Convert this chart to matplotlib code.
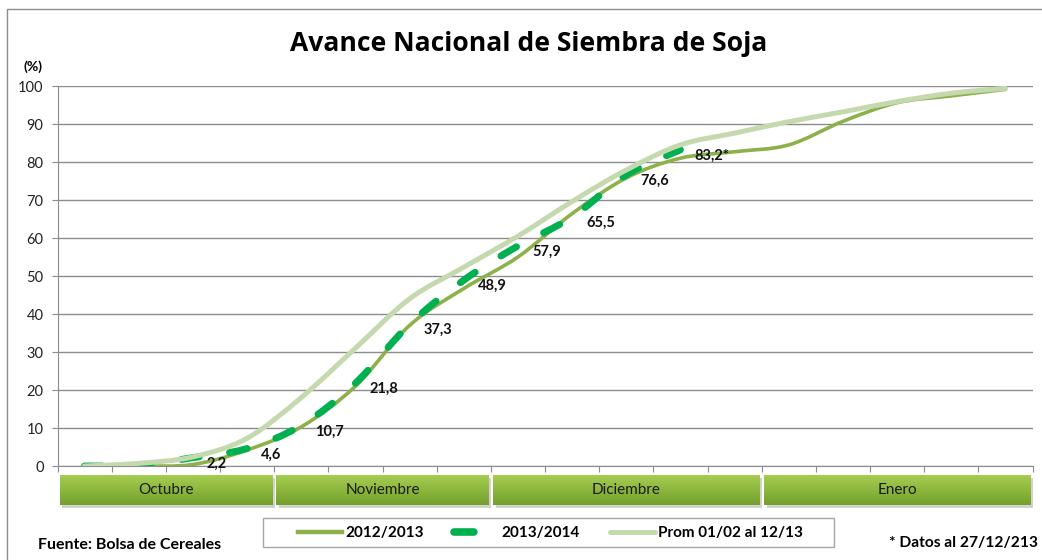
import numpy as np
import matplotlib
matplotlib.use("Agg")
import matplotlib.pyplot as plt
from matplotlib.path import Path
from matplotlib.patches import PathPatch, Rectangle
from matplotlib.lines import Line2D

plt.rcParams['font.family'] = ['Lato', 'DejaVu Sans']

# weekly categories (18 weeks, Oct -> Jan)
n_weeks = 18
s_2012 = [0, 0, 0.4, 4.2, 10.3, 21.0, 37.0, 46.7, 55.0, 66.4, 75.8, 81.0,
          82.7, 84.5, 90.7, 95.6, 97.4, 99.1]
s_2013 = [0, 0.2, 2.2, 4.6, 10.7, 21.8, 37.3, 48.9, 57.9, 65.5, 76.6, 83.2]
s_prom = [0, 0.7, 2.4, 7.3, 18.0, 31.0, 44.0, 52.3, 60.5, 69.6, 77.9, 84.5,
          87.6, 90.6, 93.2, 95.9, 98.1, 99.4]
labels_2013 = [None, None, '2,2', '4,6', '10,7', '21,8', '37,3', '48,9',
               '57,9', '65,5', '76,6', '83,2*']

months = ['Octubre', 'Noviembre', 'Diciembre', 'Enero']
month_weeks = [4, 4, 5, 5]

c_2012 = '#8db14a'
c_2013 = '#00b050'
c_prom = '#c5d9ae'
grid_c = '#8c8c8c'


def smooth_path(xs, ys):
    # excel-like smoothed line (catmull-rom as cubic bezier)
    pts = np.column_stack([xs, ys]).astype(float)
    n = len(pts)
    verts = [pts[0]]
    codes = [Path.MOVETO]
    for i in range(n - 1):
        p0 = pts[i - 1] if i > 0 else pts[i]
        p1 = pts[i]
        p2 = pts[i + 1]
        p3 = pts[i + 2] if i + 2 < n else pts[i + 1]
        verts += [p1 + (p2 - p0) / 6, p2 - (p3 - p1) / 6, p2]
        codes += [Path.CURVE4] * 3
    return Path(verts, codes)


fig = plt.figure(figsize=(10.42, 5.6), dpi=100)
ax = fig.add_axes([57.5 / 1042, (560 - 466) / 560, 975 / 1042, 380 / 560])

x12 = np.arange(len(s_2012)) + 0.5
x13 = np.arange(len(s_2013)) + 0.5
xpr = np.arange(len(s_prom)) + 0.5

ax.add_patch(PathPatch(smooth_path(x12, s_2012), fill=False, edgecolor=c_2012,
                       lw=2.6, capstyle='round', joinstyle='round', zorder=3))
ax.add_patch(PathPatch(smooth_path(x13, s_2013), fill=False, edgecolor=c_2013,
                       lw=5, linestyle=(0, (2.6, 4.4)), capstyle='round',
                       joinstyle='round', zorder=4))
ax.add_patch(PathPatch(smooth_path(xpr, s_prom), fill=False, edgecolor=c_prom,
                       lw=3.6, capstyle='round', joinstyle='round', zorder=5))

for xv, yv, lab in zip(x13, s_2013, labels_2013):
    if lab:
        ax.annotate(lab, (xv, yv), xytext=(14, -6), textcoords='offset pixels',
                    ha='left', va='center', fontsize=10.5, fontweight='bold',
                    color='#111111', zorder=6)

ax.set_xlim(0, n_weeks)
ax.set_ylim(0, 100)
ax.set_yticks(range(0, 101, 10))
ax.set_xticks(range(0, n_weeks + 1))
ax.set_xticklabels([])
ax.grid(axis='y', color=grid_c, lw=1)
ax.set_axisbelow(True)
for s in ['top', 'right']:
    ax.spines[s].set_visible(False)
for s in ['left', 'bottom']:
    ax.spines[s].set_color(grid_c)
ax.tick_params(axis='both', direction='out', length=4, color=grid_c,
               labelsize=10.5, labelcolor='#222222')
ax.tick_params(axis='y', pad=6)
ax.text(-0.015, 1.05, '(%)', transform=ax.transAxes, ha='right', va='center',
        fontsize=10, fontweight='bold')

# month strip, light green on top fading to darker at the bottom
sx = fig.add_axes([57.5 / 1042, (560 - 505) / 560, 975 / 1042, 30 / 560])
grad = np.linspace(1, 0, 50).reshape(-1, 1)
cmap = matplotlib.colors.LinearSegmentedColormap.from_list('m', ['#a5cd50', '#74a02b'])
start = 0
for m, w in zip(months, month_weeks):
    b, e = start + 0.04, start + w - 0.04
    sx.add_patch(Rectangle((b + 0.05, -0.09), e - b, 1, color='#9a9a9a',
                           alpha=0.45, lw=0, clip_on=False, zorder=1))
    sx.imshow(grad, extent=(b, e, 0, 1), origin='lower', cmap=cmap,
              vmin=0, vmax=1, aspect='auto', zorder=2)
    sx.text((b + e) / 2, 0.5, m, ha='center', va='center', fontsize=11,
            color='#1a1a1a', zorder=3)
    start += w
sx.set_xlim(0, n_weeks)
sx.set_ylim(0, 1)
sx.axis('off')

fig.text(0.507, 0.922, 'Avance Nacional de Siembra de Soja', ha='center',
         va='center', fontsize=19.1, fontweight='bold', family='Open Sans')

# legend
fig.add_artist(Rectangle((263 / 1042, 13 / 560), 571 / 1042, 29 / 560,
                         transform=fig.transFigure, fill=False,
                         edgecolor='#a6a6a6', lw=1))
handles = [Line2D([], [], color=c_2012, lw=3.2),
           Line2D([], [], color=c_2013, lw=5.5, dashes=(2.6, 4.4),
                  dash_capstyle='round'),
           Line2D([], [], color=c_prom, lw=3.6, solid_capstyle='round')]
fig.legend(handles, ['2012/2013', '2013/2014', 'Prom 01/02 al 12/13'],
           ncol=3, loc='center', bbox_to_anchor=(0.528, 0.048), frameon=False,
           handlelength=2.9, handletextpad=0.2, columnspacing=2.0,
           prop={'weight': 'bold', 'size': 11})

fig.text(38 / 1042, 0.014, 'Fuente: Bolsa de Cereales', ha='left',
         va='bottom', fontsize=11.5, fontweight='bold')
fig.text(1038 / 1042, 0.018, '* Datos al 27/12/213', ha='right',
         va='bottom', fontsize=11.2, fontweight='bold')

# outer chart border
fig.add_artist(Rectangle((7 / 1042, -0.1), 1.0, 551 / 560 + 0.1,
                         transform=fig.transFigure, fill=False,
                         edgecolor='#8c8c8c', lw=1))

fig.savefig('out.png', dpi=100)
